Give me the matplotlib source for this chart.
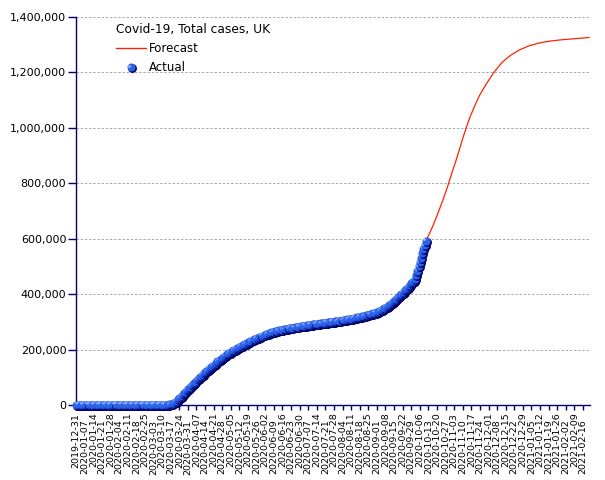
import numpy as np
import pandas as pd
import matplotlib
matplotlib.use('Agg')
import matplotlib.pyplot as plt
import matplotlib.transforms as mtransforms
import matplotlib.dates as mdates
from matplotlib.ticker import FuncFormatter

# daily total cases (thousands), first day 2019-12-31
start_date = '2019-12-31'
actual_k = [
    0, 0, 0, 0, 0, 0, 0, 0, 0, 0, 0, 0, 0, 0, 0, 0, 0, 0, 0, 0,
    0, 0, 0, 0, 0, 0, 0, 0, 0, 0, 0, 0, 0, 0, 0, 0, 0, 0, 0, 0,
    0, 0, 0, 0, 0, 0, 0, 0, 0, 0, 0, 0, 0, 0, 0, 0, 0, 0, 0, 0,
    0.0, 0.0, 0.0, 0.1, 0.1, 0.1, 0.2, 0.2, 0.3, 0.3,
    0.4, 0.5, 0.6, 0.8, 1.0, 1.4, 2.0, 2.8, 4.0, 6.3,
    9.0, 12.3, 16.0, 20.0, 24.2, 28.5, 33.0, 38.0, 43.0, 48.0,
    53.0, 57.5, 62.0, 66.5, 71.0, 75.2, 79.6, 84.0, 88.4, 92.8,
    97.0, 101.3, 105.5, 109.7, 113.9, 118.0, 122.0, 126.0, 130.0, 134.0,
    138.0, 141.8, 145.6, 149.4, 153.2, 157.0, 160.5, 164.0, 167.4, 170.7,
    174.0, 177.1, 180.1, 183.1, 186.0, 189.0, 191.7, 194.3, 196.9, 199.5,
    202.0, 204.5, 206.9, 209.3, 211.7, 214.0, 216.4, 218.8, 221.2, 223.6,
    226.0, 228.3, 230.5, 232.7, 234.9, 237.0, 239.0, 241.0, 243.0, 245.0,
    247.0, 248.9, 250.7, 252.5, 254.3, 256.0, 257.5, 258.9, 260.3, 261.7,
    263.0, 264.3, 265.5, 266.7, 267.9, 269.0, 270.0, 271.0, 272.0, 273.0,
    274.0, 274.8, 275.6, 276.4, 277.2, 278.0, 278.8, 279.6, 280.4, 281.2,
    282.0, 282.6, 283.2, 283.8, 284.4, 285.0, 285.8, 286.6, 287.4, 288.2,
    289.0, 289.6, 290.2, 290.8, 291.4, 292.0, 292.6, 293.2, 293.8, 294.4,
    295.0, 295.6, 296.2, 296.8, 297.4, 298.0, 298.6, 299.2, 299.8, 300.4,
    301.0, 301.6, 302.2, 302.8, 303.4, 304.0, 304.8, 305.6, 306.4, 307.2,
    308.0, 308.8, 309.6, 310.4, 311.2, 312.0, 313.0, 314.0, 315.0, 316.0,
    317.0, 318.0, 319.0, 320.0, 321.0, 322.0, 323.2, 324.4, 325.6, 326.8,
    328.0, 329.4, 330.8, 332.2, 333.6, 335.0, 337.0, 339.0, 341.0, 343.0,
    345.0, 348.4, 351.8, 355.2, 358.6, 362.0, 365.6, 369.2, 372.8, 376.4,
    380.0, 384.0, 388.0, 392.0, 396.0, 400.0, 404.6, 409.2, 413.8, 418.4,
    423.0, 428.2, 433.4, 438.6, 443.8, 449.0, 455.0, 470.0, 485.0, 500.0,
    515.0, 531.0, 548.0, 563.0, 577.0, 592.0,
]

forecast_dates = [
    '2020-10-11', '2020-10-14', '2020-10-17', '2020-10-20', '2020-10-23',
    '2020-10-26', '2020-10-29', '2020-11-01', '2020-11-04', '2020-11-07',
    '2020-11-10', '2020-11-13', '2020-11-16', '2020-11-20', '2020-11-24',
    '2020-11-29', '2020-12-05', '2020-12-12', '2020-12-19', '2020-12-26',
    '2021-01-03', '2021-01-11', '2021-01-20', '2021-01-30', '2021-02-10',
    '2021-02-21',
]
forecast_k = [
    592, 620, 650, 683, 718, 754, 793, 836, 875, 918,
    962, 1003, 1040, 1082, 1120, 1157, 1198, 1236, 1262, 1281,
    1296, 1306, 1313, 1318, 1322, 1326,
]

tick_dates = pd.date_range('2019-12-31', '2021-02-16', freq='7D')
y_ticks = [0, 200000, 400000, 600000, 800000, 1000000, 1200000, 1400000]

title = 'Covid-19, Total cases, UK'

navy = '#000066'
red = '#ff2200'
blue = '#2b62ea'
light = '#9dbdff'

act_x = mdates.date2num(pd.date_range(start_date, periods=len(actual_k), freq='D'))
act_y = np.array(actual_k) * 1000
fc_x = mdates.date2num(pd.to_datetime(forecast_dates))
fc_y = np.array(forecast_k) * 1000

fig = plt.figure(figsize=(6.05, 4.8), dpi=100)
ax = fig.add_axes([76 / 605, 75 / 480, 514 / 605, 388 / 480])

x0 = mdates.date2num(pd.Timestamp(start_date))

ax.plot(fc_x, fc_y, color=red, lw=0.9, zorder=2)

# fake shaded spheres: shadow, body, highlight per point
shadow = mtransforms.ScaledTranslation(0.7 / 72, -0.7 / 72, fig.dpi_scale_trans)
shine = mtransforms.ScaledTranslation(-1.1 / 72, 1.1 / 72, fig.dpi_scale_trans)
for xv, yv in zip(act_x, act_y):
    ax.plot(xv, yv, 'o', ms=6.4, mfc=navy, mec='none',
            transform=ax.transData + shadow, clip_on=False, zorder=3)
    ax.plot(xv, yv, 'o', ms=5.8, mfc=blue, mec='none', clip_on=False, zorder=3)
    ax.plot(xv, yv, 'o', ms=2.0, mfc=light, mec='none',
            transform=ax.transData + shine, clip_on=False, zorder=3)

ax.set_xlim(x0 - 0.2, x0 + 418.7)
ax.set_ylim(0, 1400000)

# axes styling
for s in ['top', 'right']:
    ax.spines[s].set_visible(False)
for s in ['left', 'bottom']:
    ax.spines[s].set_color(navy)
    ax.spines[s].set_linewidth(1.0)
    ax.spines[s].set_zorder(1)

ax.set_yticks(y_ticks)
ax.yaxis.set_major_formatter(FuncFormatter(lambda v, p: f'{int(v):,}'))
ax.tick_params(axis='y', length=6, width=1, color=navy, pad=1, labelsize=8)
ax.yaxis.grid(True, color='#aaaaaa', linestyle=(0, (2.5, 1.8)), linewidth=0.7)
ax.set_axisbelow(True)

ax.set_xticks(mdates.date2num(tick_dates))
ax.set_xticklabels([d.strftime('%Y-%m-%d') for d in tick_dates], rotation=90, fontsize=6.8)
ax.tick_params(axis='x', length=3.5, width=1, color=navy, pad=2)
for i, lab in enumerate(ax.get_xticklabels()):
    if i % 2 == 1:
        lab.set_transform(lab.get_transform() +
                          mtransforms.ScaledTranslation(0, -5 / 72, fig.dpi_scale_trans))

# legend
ax.text(0.078, 0.969, title, transform=ax.transAxes, fontsize=8.8, va='center', ha='left')
ax.plot([0.078, 0.136], [0.920, 0.920], color=red, lw=1, transform=ax.transAxes, clip_on=False)
ax.text(0.142, 0.920, 'Forecast', transform=ax.transAxes, fontsize=8.5, va='center', ha='left')
lx, ly = 0.107, 0.871
ax.plot(lx, ly, 'o', ms=6.4, mfc=navy, mec='none', transform=ax.transAxes + shadow, clip_on=False)
ax.plot(lx, ly, 'o', ms=5.8, mfc=blue, mec='none', transform=ax.transAxes, clip_on=False)
ax.plot(lx, ly, 'o', ms=2.0, mfc=light, mec='none', transform=ax.transAxes + shine, clip_on=False)
ax.text(0.142, 0.871, 'Actual', transform=ax.transAxes, fontsize=8.5, va='center', ha='left')

fig.savefig('out.png', dpi=100)
